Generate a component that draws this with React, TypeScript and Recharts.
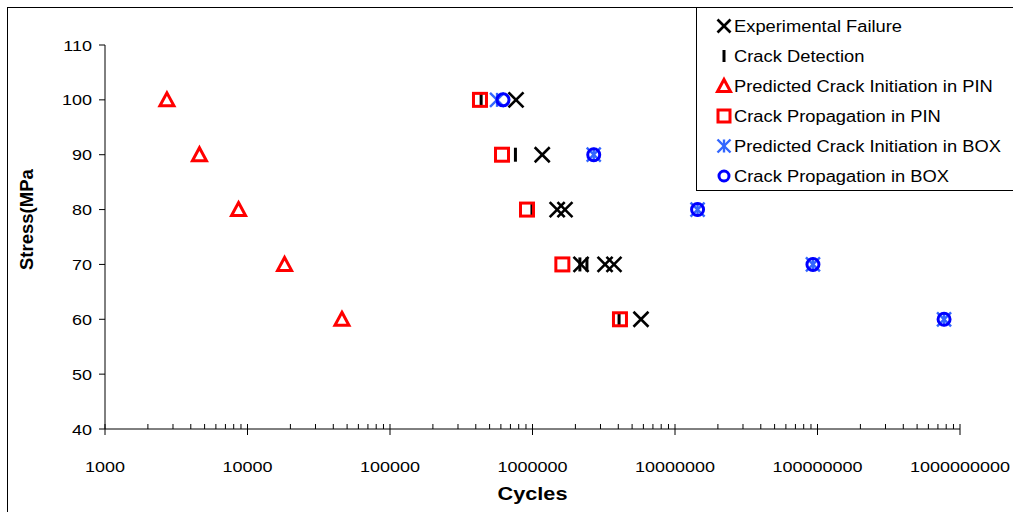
import React from 'react';
import { ScatterChart, Scatter, XAxis, YAxis, Legend, Label } from 'recharts';

// ---------- data ----------
const failureCycles = [766000, 1170000, 1490000, 1690000, 2190000, 3230000, 3730000, 5770000];
const failureStress = [100, 90, 80, 80, 70, 70, 70, 60];

const detectionCycles = [436000, 759000, 991000, 2150000, 2410000, 4050000];
const detectionStress = [100, 90, 80, 70, 70, 60];

const pinInitCycles = [2720, 4600, 8650, 18200, 46000];
const pinInitStress = [100, 90, 80, 70, 60];

const pinPropCycles = [428000, 611000, 915000, 1620000, 4110000];
const pinPropStress = [100, 90, 80, 70, 60];

const boxInitCycles = [564000, 2690000, 14400000, 92900000, 773000000];
const boxInitStress = [100, 90, 80, 70, 60];

const boxPropCycles = [621000, 2690000, 14400000, 92900000, 773000000];
const boxPropStress = [100, 90, 80, 70, 60];

const xMajorTicks = [1e3, 1e4, 1e5, 1e6, 1e7, 1e8, 1e9];
const xTickLabels = ['1000', '10000', '100000', '1000000', '10000000', '100000000', '1000000000'];
const yTicks = [40, 50, 60, 70, 80, 90, 100, 110];

const seriesNames = [
  'Experimental Failure',
  'Crack Detection',
  'Predicted Crack Initiation in PIN',
  'Crack Propagation in PIN',
  'Predicted Crack Initiation in BOX',
  'Crack Propagation in BOX',
];

// ---------- helpers ----------
const zip = (xs: number[], ys: number[]) => xs.map((x, i) => ({ x, y: ys[i] }));

const xMinorTicks: number[] = [];
xMajorTicks.slice(0, -1).forEach((d) => {
  for (let k = 2; k <= 9; k++) xMinorTicks.push(d * k);
});
const xAllTicks = [...xMajorTicks, ...xMinorTicks].sort((a, b) => a - b);

const FONT = '"Liberation Sans", Arial, sans-serif';
const STRETCH = 1.16;
const RED = '#FF0000';
const STAR_BLUE = '#3366FF';
const CIRCLE_BLUE = '#0000FF';

// ---------- marker shapes ----------
const XMark = ({ cx, cy, s = 7.5 }: any) => (
  <g stroke="#000" strokeWidth={2.6} strokeLinecap="butt">
    <line x1={cx - s} y1={cy - s} x2={cx + s} y2={cy + s} />
    <line x1={cx - s} y1={cy + s} x2={cx + s} y2={cy - s} />
  </g>
);
const BarMark = ({ cx, cy, h = 7 }: any) => (
  <rect x={cx - 1.5} y={cy - h} width={3} height={h * 2} fill="#000" />
);
const TriMark = ({ cx, cy, s = 7 }: any) => (
  <path
    d={`M${cx},${cy - s} L${cx + s},${cy + s * 0.85} L${cx - s},${cy + s * 0.85} Z`}
    fill="none"
    stroke={RED}
    strokeWidth={3}
    strokeLinejoin="miter"
  />
);
const SquareMark = ({ cx, cy, s = 6.5 }: any) => (
  <rect x={cx - s} y={cy - s} width={s * 2} height={s * 2} fill="none" stroke={RED} strokeWidth={3} />
);
const StarMark = ({ cx, cy, s = 7 }: any) => (
  <g stroke={STAR_BLUE} strokeWidth={2.4}>
    <line x1={cx - s} y1={cy - s} x2={cx + s} y2={cy + s} />
    <line x1={cx - s} y1={cy + s} x2={cx + s} y2={cy - s} />
    <line x1={cx} y1={cy - s} x2={cx} y2={cy + s} />
  </g>
);
const CircleMark = ({ cx, cy, r = 6 }: any) => (
  <circle cx={cx} cy={cy} r={r} fill="none" stroke={CIRCLE_BLUE} strokeWidth={3} />
);

const legendIcons: Record<string, (cx: number, cy: number) => React.ReactNode> = {
  [seriesNames[0]]: (cx, cy) => <XMark cx={cx} cy={cy} s={6.5} />,
  [seriesNames[1]]: (cx, cy) => <BarMark cx={cx} cy={cy} h={6} />,
  [seriesNames[2]]: (cx, cy) => <TriMark cx={cx} cy={cy} s={6.5} />,
  [seriesNames[3]]: (cx, cy) => <SquareMark cx={cx} cy={cy} s={6} />,
  [seriesNames[4]]: (cx, cy) => <StarMark cx={cx} cy={cy} s={6.5} />,
  [seriesNames[5]]: (cx, cy) => <CircleMark cx={cx} cy={cy} r={5} />,
};

// ---------- axis ticks ----------
const XTick = (props: any) => {
  const { x, y, payload } = props;
  const v = payload.value;
  const idx = xMajorTicks.findIndex((m) => Math.abs(m - v) / m < 1e-6);
  const major = idx >= 0;
  return (
    <g>
      <line x1={x} x2={x} y1={y - 5} y2={major ? y + 6 : y} stroke="#000" strokeWidth={1} />
      {major && (
        <text
          transform={`translate(${x} ${y + 43}) scale(${STRETCH} 1)`}
          textAnchor="middle"
          fontFamily={FONT}
          fontSize={15.5}
          fill="#000"
        >
          {xTickLabels[idx]}
        </text>
      )}
    </g>
  );
};

const YTick = (props: any) => {
  const { x, y, payload } = props;
  return (
    <g>
      <line x1={x - 6} x2={x} y1={y} y2={y} stroke="#000" strokeWidth={1} />
      <text
        transform={`translate(${x - 13} ${y + 5.5}) scale(${STRETCH} 1)`}
        textAnchor="end"
        fontFamily={FONT}
        fontSize={15.5}
        fill="#000"
      >
        {payload.value}
      </text>
    </g>
  );
};

// ---------- legend ----------
const LegendBox = (props: any) => {
  const payload = [...(props.payload || [])].sort(
    (a: any, b: any) => seriesNames.indexOf(a.value) - seriesNames.indexOf(b.value)
  );
  return (
    <svg width={330} height={182} style={{ display: 'block' }}>
      {payload.map((entry: any, i: number) => {
        const cy = 18 + i * 30;
        const icon = legendIcons[entry.value];
        return (
          <g key={entry.value}>
            {icon ? icon(27, cy) : null}
            <text
              transform={`translate(37 ${cy + 5.5}) scale(${STRETCH} 1)`}
              fontFamily={FONT}
              fontSize={15.8}
              fill="#000"
            >
              {entry.value}
            </text>
          </g>
        );
      })}
    </svg>
  );
};

export default function App() {
  return (
    <div
      style={{
        position: 'absolute',
        left: 0,
        top: 0,
        width: 1013,
        height: 512,
        overflow: 'hidden',
        background: '#fff',
      }}
    >
      <div
        style={{
          position: 'absolute',
          left: 7,
          top: 7,
          width: 1100,
          height: 600,
          border: '1px solid #000',
        }}
      />
      <div style={{ position: 'absolute', left: 0, top: 0 }}>
        <ScatterChart width={1013} height={512} margin={{ top: 45, right: 53, bottom: 0, left: 0 }}>
          <XAxis
            type="number"
            dataKey="x"
            scale="log"
            domain={[1000, 1e9]}
            ticks={xAllTicks}
            interval={0}
            allowDataOverflow
            height={83}
            tickSize={0}
            tickMargin={0}
            tickLine={false}
            axisLine={{ stroke: '#000', strokeWidth: 1 }}
            tick={<XTick />}
          >
            <Label
              content={(p: any) => {
                const vb = p.viewBox || { x: 105, y: 429, width: 855 };
                return (
                  <text
                    transform={`translate(${vb.x + vb.width / 2} ${vb.y + 71}) scale(${STRETCH} 1)`}
                    textAnchor="middle"
                    fontFamily={FONT}
                    fontWeight="bold"
                    fontSize={18.7}
                    fill="#000"
                  >
                    Cycles
                  </text>
                );
              }}
            />
          </XAxis>
          <YAxis
            type="number"
            dataKey="y"
            domain={[40, 110]}
            ticks={yTicks}
            interval={0}
            width={105}
            tickSize={0}
            tickMargin={0}
            tickLine={false}
            axisLine={{ stroke: '#000', strokeWidth: 1 }}
            tick={<YTick />}
          >
            <Label
              content={(p: any) => {
                const vb = p.viewBox || { x: 0, y: 45, height: 384 };
                return (
                  <text
                    transform={`translate(${vb.x + 33} 270) rotate(-90)`}
                    textAnchor="start"
                    fontFamily={FONT}
                    fontWeight="bold"
                    fontSize={18.5}
                    fill="#000"
                  >
                    Stress(MPa
                  </text>
                );
              }}
            />
          </YAxis>
          <Legend
            layout="vertical"
            align="center"
            verticalAlign="middle"
            itemSorter={null as any}
            content={<LegendBox />}
            wrapperStyle={{
              left: 696,
              top: 7,
              right: 'auto',
              bottom: 'auto',
              width: 340,
              height: 184,
              border: '1px solid #000',
              background: '#fff',
              boxSizing: 'border-box',
              margin: 0,
            }}
          />
          <Scatter
            name={seriesNames[0]}
            data={zip(failureCycles, failureStress)}
            fill="#000"
            isAnimationActive={false}
            shape={(p: any) => <XMark cx={p.cx} cy={p.cy} />}
          />
          <Scatter
            name={seriesNames[1]}
            data={zip(detectionCycles, detectionStress)}
            fill="#000"
            isAnimationActive={false}
            shape={(p: any) => <BarMark cx={p.cx} cy={p.cy} />}
          />
          <Scatter
            name={seriesNames[2]}
            data={zip(pinInitCycles, pinInitStress)}
            fill={RED}
            isAnimationActive={false}
            shape={(p: any) => <TriMark cx={p.cx} cy={p.cy} />}
          />
          <Scatter
            name={seriesNames[3]}
            data={zip(pinPropCycles, pinPropStress)}
            fill={RED}
            isAnimationActive={false}
            shape={(p: any) => <SquareMark cx={p.cx} cy={p.cy} />}
          />
          <Scatter
            name={seriesNames[4]}
            data={zip(boxInitCycles, boxInitStress)}
            fill={STAR_BLUE}
            isAnimationActive={false}
            shape={(p: any) => <StarMark cx={p.cx} cy={p.cy} />}
          />
          <Scatter
            name={seriesNames[5]}
            data={zip(boxPropCycles, boxPropStress)}
            fill={CIRCLE_BLUE}
            isAnimationActive={false}
            shape={(p: any) => <CircleMark cx={p.cx} cy={p.cy} />}
          />
        </ScatterChart>
      </div>
    </div>
  );
}
